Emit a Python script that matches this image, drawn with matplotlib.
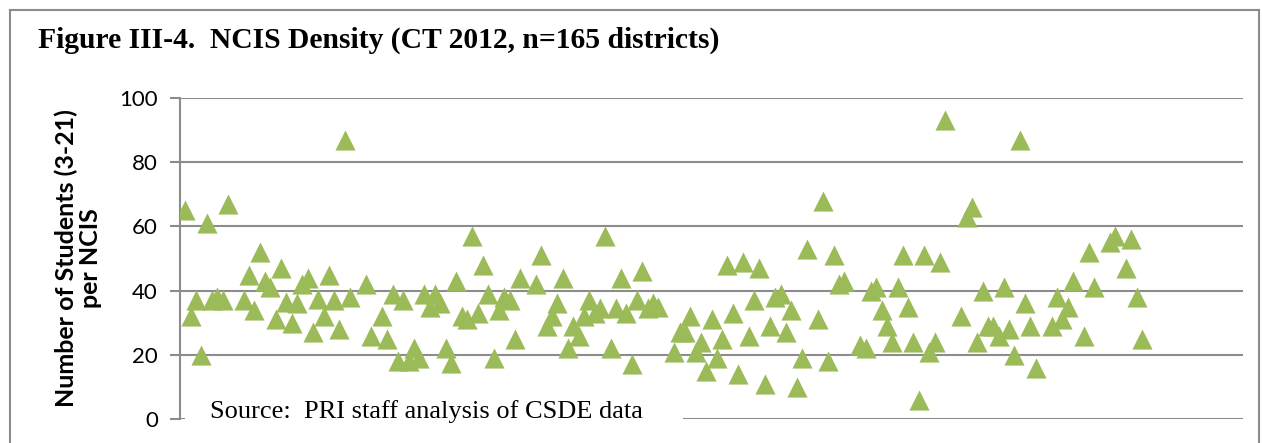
import matplotlib
matplotlib.use("Agg")
import matplotlib.pyplot as plt
from matplotlib.patches import Rectangle

# district slot (x) and students per NCIS (y)
district = [1, 2, 3, 4, 5, 6, 7, 8, 9, 12, 13, 14, 15, 16, 17, 18, 19, 20, 21, 22,
            23, 24, 25, 26, 27, 28, 29, 30, 31, 32, 35, 36, 38, 39, 40, 41, 42, 43, 44, 45,
            46, 47, 48, 49, 50, 51, 52, 53, 54, 55, 56, 57, 58, 59, 60, 61, 62, 63, 64, 67,
            68, 69, 70, 71, 72, 73, 74, 75, 76, 77, 78, 79, 80, 81, 82, 83, 84, 85, 86, 87,
            88, 89, 90, 93, 94, 95, 96, 97, 98, 99, 100, 101, 102, 103, 104, 105, 106, 107, 108, 109,
            110, 111, 112, 113, 114, 115, 116, 117, 118, 120, 121, 122, 123, 124, 125, 128, 129, 130, 131, 132,
            133, 134, 135, 136, 137, 138, 139, 140, 141, 142, 143, 144, 147, 148, 149, 150, 151, 152, 153, 154,
            155, 156, 157, 158, 159, 160, 161, 164, 165, 166, 167, 168, 170, 171, 172, 175, 176, 178, 179, 180,
            181]
density = [65, 32, 37, 20, 61, 37, 38, 37, 67, 37, 45, 34, 52, 43, 41, 31, 47, 36.5, 30, 36,
           42, 44, 27, 37.5, 32, 45, 37, 28, 87, 38, 42, 26, 32, 25, 39, 18, 37, 18, 22, 19,
           39, 35, 39, 36, 22, 17.5, 43, 32, 31, 57, 33, 48, 39, 19, 34, 38, 37, 25, 44, 42,
           51, 29, 32, 36, 44, 22, 29, 26, 32, 37, 33, 34.5, 57, 22, 34.5, 44, 33, 17, 37, 46,
           34.5, 36, 35, 21, 27, 27, 32, 21, 24, 15, 31, 19, 25, 48, 33, 14, 49, 26, 37, 47,
           11, 29, 38, 39, 27, 34, 10, 19, 53, 31, 68, 18, 51, 42, 43, 23, 22, 40, 41, 34,
           29, 24, 41, 51, 35, 24, 6, 51, 21, 24, 49, 93, 32, 63, 66, 24, 40, 29, 29, 26,
           41, 28, 20, 87, 36, 29, 16, 29, 38, 31, 35, 43, 26, 52, 41, 55, 57, 47, 56, 38,
           25]

yticks = [0, 20, 40, 60, 80, 100]

W, H = 1262, 443
fig = plt.figure(figsize=(W / 100, H / 100), dpi=100)
ax = fig.add_axes([180 / W, 1 - 419 / H, (1243 - 180) / W, (419 - 98) / H])

grid_col = "#8c8c8c"
ax.scatter(district, density, marker="^", s=210, color="#9BBB59", linewidths=0, zorder=3)

ax.set_xlim(0, 200)
ax.set_ylim(0, 100)
ax.set_yticks(yticks)
ax.set_xticks([])
ax.yaxis.grid(True, color=grid_col, linewidth=1.5)
ax.set_axisbelow(True)
for s in ["top", "right", "bottom"]:
    ax.spines[s].set_visible(False)
ax.spines["left"].set_color(grid_col)
ax.spines["left"].set_linewidth(1.5)
ax.tick_params(axis="y", length=7, width=1.5, color=grid_col, pad=9,
               labelsize=16, labelfontfamily="Lato")

ax.set_ylabel("Number of Students (3-21)\nper NCIS", fontsize=18, fontweight="bold",
              family="Lato", linespacing=1.1, labelpad=12)

# outer frame
fig.add_artist(plt.Line2D([10 / W, 10 / W], [0, 1 - 10 / H], color=grid_col, lw=1.5))
fig.add_artist(plt.Line2D([10 / W, 1259 / W], [1 - 10 / H, 1 - 10 / H], color=grid_col, lw=1.5))
fig.add_artist(plt.Line2D([1259 / W, 1259 / W], [0, 1 - 10 / H], color=grid_col, lw=1.5))

fig.text(38 / W, 1 - 48 / H, "Figure III-4.  NCIS Density (CT 2012, n=165 districts)",
         family="Liberation Serif", fontweight="bold", fontsize=21.3, va="baseline")

# source box sits over the x axis line
fig.add_artist(Rectangle((185 / W, 1 - 432 / H), (683 - 185) / W, (432 - 396) / H,
                         transform=fig.transFigure, facecolor="white", edgecolor="none", zorder=4))
fig.text(210 / W, 1 - 418 / H, "Source:  PRI staff analysis of CSDE data",
         family="Liberation Serif", fontsize=19, va="baseline", zorder=5)

fig.savefig("out.png", dpi=100)
